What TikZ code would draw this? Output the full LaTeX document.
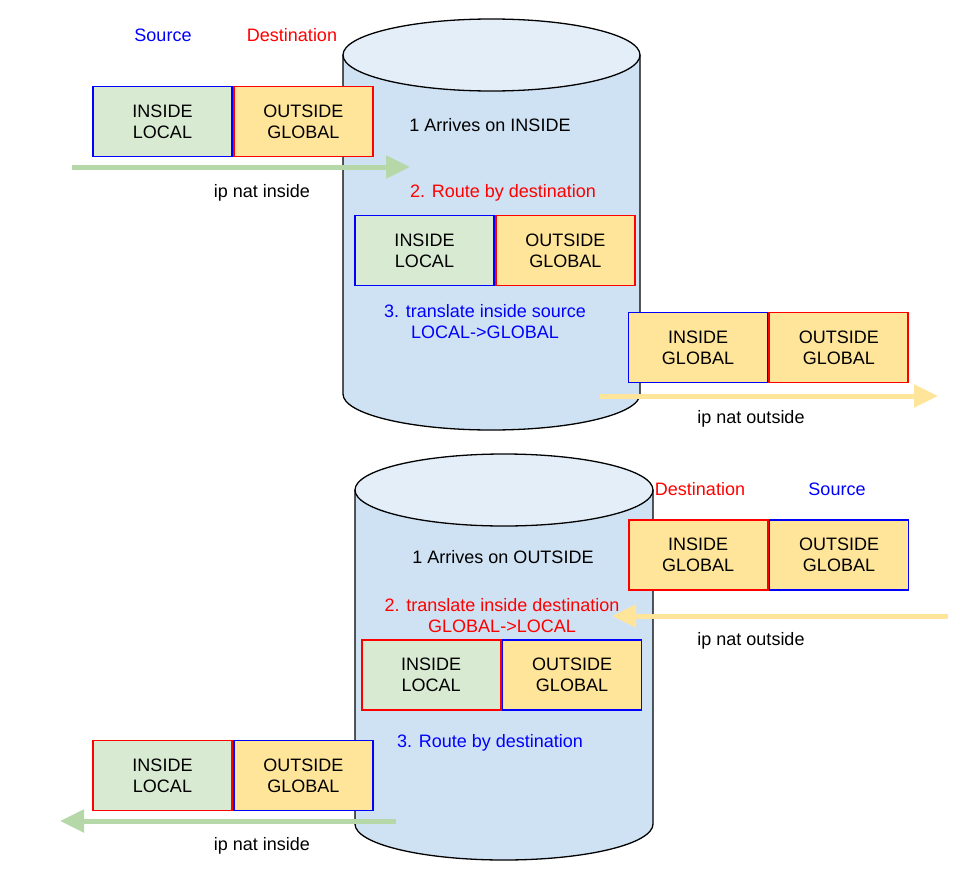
\documentclass[tikz,border=0pt]{standalone}
\usepackage{fontspec}
\setmainfont{Liberation Sans}
\usepackage{xcolor}
\usetikzlibrary{arrows.meta}
\definecolor{lgreen}{HTML}{D9EAD3}
\definecolor{lorange}{HTML}{FFE599}
\definecolor{cylbody}{HTML}{CFE2F3}
\definecolor{cyltop}{HTML}{E3EEF8}
\definecolor{garrow}{HTML}{B6D7A8}
\definecolor{yarrow}{HTML}{FFE599}

\begin{document}
\begin{tikzpicture}[x=1pt,y=-1pt,
  every node/.style={font=\fontsize{18}{21}\selectfont,align=center},
  half/.style={minimum width=139pt,minimum height=70pt,inner sep=0pt,line width=1.8pt},
  inl/.style={half,fill=lgreen},
  outg/.style={half,fill=lorange},
  can/.style={draw=black,line width=1.3pt},
  fat/.style={line width=5pt,-{Triangle[length=24pt,width=22pt]}}]
\useasboundingbox (0,0) rectangle (964,889);
% the two routers
\draw[can,fill=cylbody] (343,55) -- (343,394) arc[start angle=180,end angle=0,x radius=148.5,y radius=36] -- (640,55);
\draw[can,fill=cyltop] (491.5,55) ellipse[x radius=148.5,y radius=36];
\draw[can,fill=cylbody] (355,490) -- (355,824) arc[start angle=180,end angle=0,x radius=149,y radius=36] -- (653,490);
\draw[can,fill=cyltop] (504,490) ellipse[x radius=149,y radius=36];

% inside -> outside
\node[text=blue] (src1) at (163,35) {Source};
\node[text=red] (dst1) at (292,35) {Destination};
\node[inl,draw=blue] (il1) at (162.5,121.5) {INSIDE\\LOCAL};
\node[outg,draw=red,anchor=west] (og1) at (il1.east) {OUTSIDE\\GLOBAL};
\coordinate (in1s) at (72,167);
\coordinate (in1e) at (410,167);
\draw[fat,garrow] (in1s) -- (in1e);
\node (nat1) at (262,193) {ip nat inside};
\node (arr1) at (490,125) {1 Arrives on INSIDE};
\node[text=red] (rt1) at (503,193) {2. Route by destination};
\node[inl,draw=blue] (il2) at (424.5,250.5) {INSIDE\\LOCAL};
\node[outg,draw=red,anchor=west] (og2) at (il2.east) {OUTSIDE\\GLOBAL};
\node[text=blue] (tr1) at (485,322) {3. translate inside source\\LOCAL->GLOBAL};
\node[outg,draw=blue] (ig1) at (698,347.5) {INSIDE\\GLOBAL};
\node[outg,draw=red,anchor=west] (og3) at (ig1.east) {OUTSIDE\\GLOBAL};
\coordinate (out1s) at (600,396);
\coordinate (out1e) at (938,396);
\draw[fat,yarrow] (out1s) -- (out1e);
\node (nat2) at (751,419) {ip nat outside};

% outside -> inside
\node[text=red] (dst2) at (700,489) {Destination};
\node[text=blue] (src2) at (837,489) {Source};
\node[outg,draw=blue] (og4) at (839,555) {OUTSIDE\\GLOBAL};
\node[outg,draw=red,anchor=east] (ig2) at (og4.west) {INSIDE\\GLOBAL};
\coordinate (out2s) at (948,616);
\coordinate (out2e) at (612,616);
\draw[fat,yarrow] (out2s) -- (out2e);
\node (nat3) at (751,641) {ip nat outside};
\node (arr2) at (503,557) {1 Arrives on OUTSIDE};
\node[text=red] (tr2) at (502,616) {2. translate inside destination\\GLOBAL->LOCAL};
\node[outg,draw=blue] (og5) at (572,675) {OUTSIDE\\GLOBAL};
\node[inl,draw=red,anchor=east] (il3) at (og5.west) {INSIDE\\LOCAL};
\node[text=blue] (rt2) at (490,743) {3. Route by destination};
\node[inl,draw=red] (il4) at (162.5,775.5) {INSIDE\\LOCAL};
\node[outg,draw=blue,anchor=west] (og6) at (il4.east) {OUTSIDE\\GLOBAL};
\coordinate (in2s) at (396,821);
\coordinate (in2e) at (60,821);
\draw[fat,garrow] (in2s) -- (in2e);
\node (nat4) at (262,846) {ip nat inside};
\end{tikzpicture}
\end{document}
